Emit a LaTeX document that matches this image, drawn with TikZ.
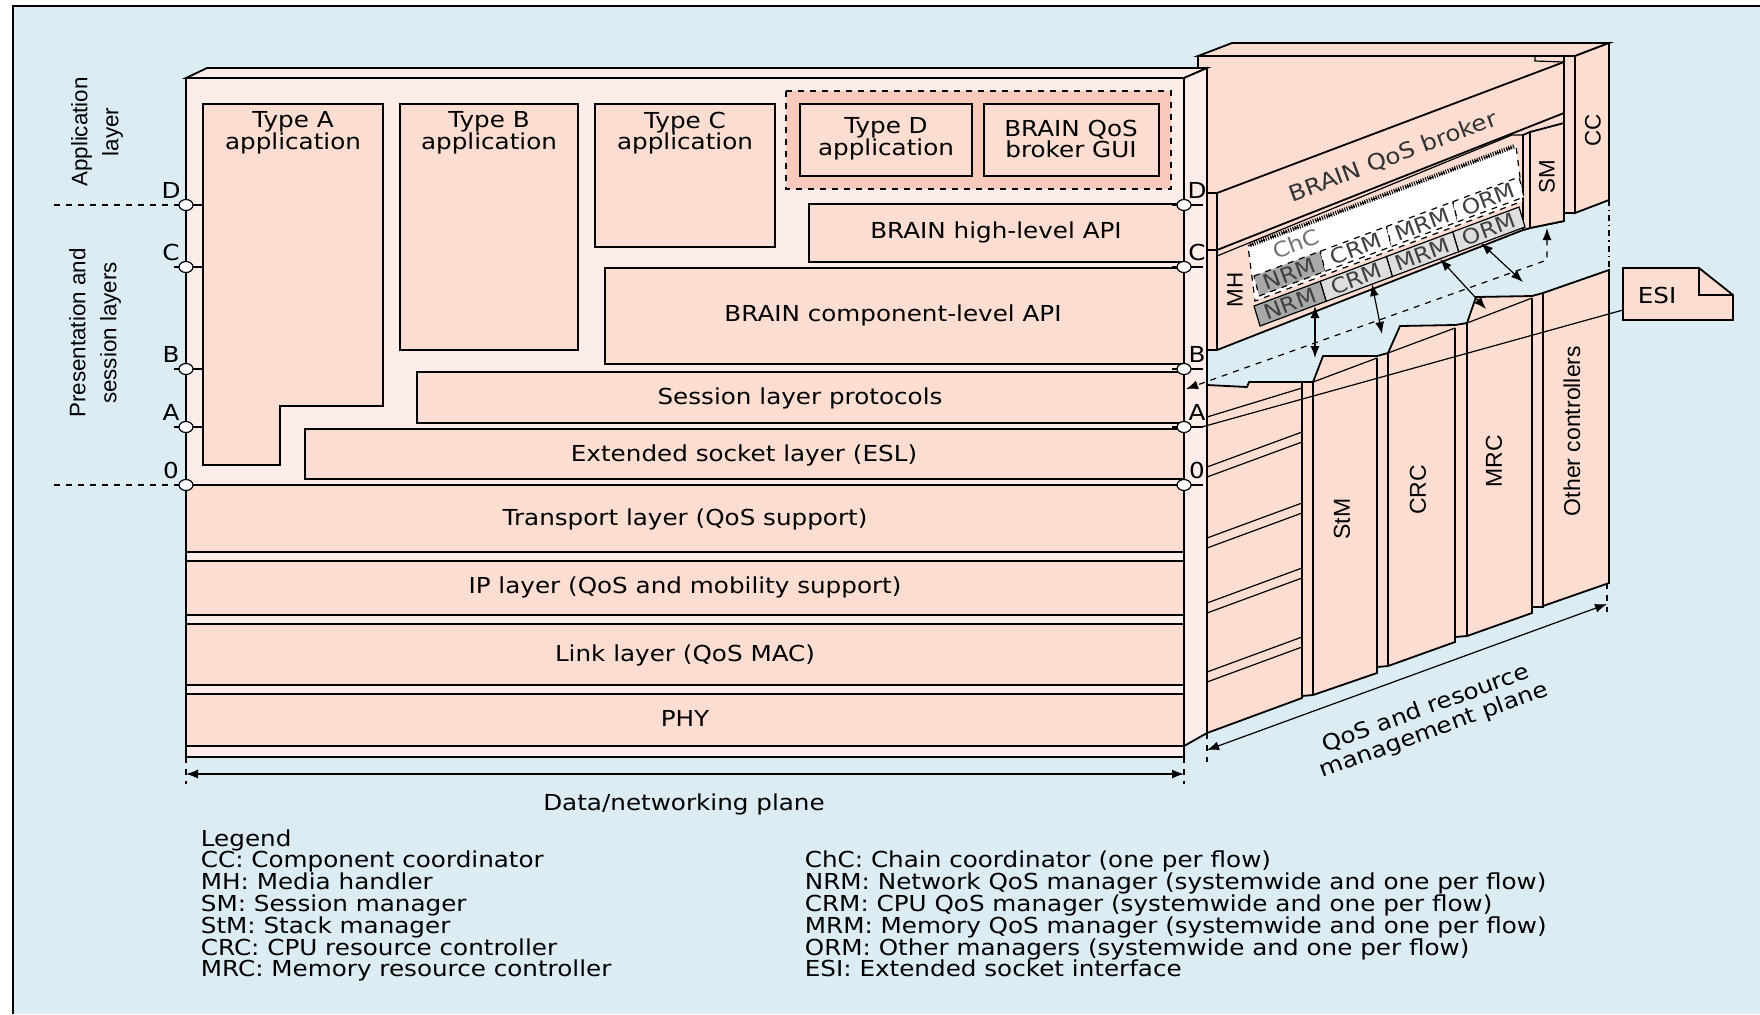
\documentclass[tikz,border=0pt]{standalone}
\usepackage{fontspec}
\setmainfont{DejaVu Sans}[FakeStretch=1.12]
\newfontfamily\narrowfont{Liberation Sans}
\usetikzlibrary{arrows.meta, positioning, shapes.geometric}
\definecolor{paneblue}{RGB}{219,236,243}
\definecolor{boxsalmon}{RGB}{252,221,210}
\definecolor{panelpink}{RGB}{253,237,234}
\definecolor{grouppink}{RGB}{249,201,188}
\definecolor{cellgrey}{RGB}{168,168,168}
\definecolor{celllight}{RGB}{222,222,222}

\tikzset{
  layerbox/.style={draw, fill=boxsalmon, line width=0.9pt},
  lbl/.style={font=\fontsize{11}{10.8}\selectfont, align=center, inner sep=0pt},
  sidelbl/.style={font=\narrowfont\fontsize{11.2}{15.5}\selectfont, align=center, rotate=90, inner sep=0pt},
  lvl/.style={ellipse, draw, fill=white, line width=0.6pt, minimum width=7pt, minimum height=5.5pt, inner sep=0pt},
  thin/.style={line width=0.6pt},
  twoway/.style={{Latex[length=6pt,width=4.5pt]}-{Latex[length=6pt,width=4.5pt]}, line width=0.6pt},
  cellbox/.style={draw, line width=0.6pt},
  cellfont/.style={font=\fontsize{10.5}{11}\selectfont, text=black!75, inner sep=0pt, rotate=20.5},
  legendline/.style={font=\fontsize{11}{11}\selectfont, anchor=base west, inner sep=0pt},
}

\begin{document}
\begin{tikzpicture}[x=0.5pt, y=-0.5pt, line width=0.9pt]
\useasboundingbox (0,0) rectangle (1760,1014);
% frame
\fill[paneblue] (12.6,6) rectangle (1760,1014);
\draw (12.6,1014) -- (12.6,6) -- (1760,6);

% ---- QoS and resource management plane, upper part
\draw[fill=boxsalmon] (1198,56) -- (1232,43) -- (1609,43) -- (1575,56) -- cycle;
\draw[fill=boxsalmon] (1198,56) -- (1564,56) -- (1564,221) -- (1530,228) -- (1523,230)
   -- (1217,350) -- (1207,350) -- (1207,70) -- (1198,70) -- cycle;
\draw[thin] (1535,56) -- (1535,61) -- (1564,62);
% broker
\draw[fill=boxsalmon] (1217,193) -- (1564,62) -- (1564,113) -- (1217,250) -- cycle;
\draw (1207,193) -- (1217,193);
\draw (1207,250) -- (1217,250);
\draw[thin] (1217,256) -- (1512,135) -- (1523,135);
\node[lbl, rotate=20.5, text=black!80] (broker) at (1393,157) {BRAIN QoS broker};
% session manager
\draw[fill=boxsalmon] (1523,135) -- (1530,132) -- (1530,228) -- (1523,230) -- cycle;
\draw[fill=boxsalmon] (1530,132) -- (1564,123) -- (1564,221) -- (1530,228) -- cycle;
\node[sidelbl] (sm) at (1547,177) {SM};
% component coordinator
\draw[fill=boxsalmon] (1564,56) -- (1575,56) -- (1575,213) -- (1564,213) -- cycle;
\draw[fill=boxsalmon] (1575,56) -- (1609,43) -- (1609,200) -- (1575,213) -- cycle;
\node[sidelbl] (cc) at (1593,130) {CC};
\draw[thin, dash dot] (1609,200) -- (1609,270);
% media handler
\draw (1217,250) -- (1217,350);
\node[sidelbl] (mh) at (1235,290) {MH};

% chain coordinator with per-flow managers
\draw[thin, dashed, fill=white] (1248,246) -- ++(268,-100) -- ++(7,55) -- ++(-268,100) -- cycle;
\draw[line width=2.2pt, dash pattern=on 0.5pt off 0.7pt] (1250,245) -- ++(265,-99);
\node[cellfont, text=black!55] (chc) at (1296,244) {ChC};
\foreach \nm/\k/\clr in {NRM/0/cellgrey, CRM/1/white, MRM/2/white, ORM/3/white} {
  \draw[cellbox, dashed, fill=\clr] ({1254+66.25*\k},{276-24.75*\k}) -- ++(66.25,-24.75) -- ++(5,20) -- ++(-66.25,24.75) -- cycle;
  \node[cellfont] (flow\nm) at ({1256.5+66.25*\k+33.1},{286-24.75*\k-12.4}) {\nm};
}
% systemwide managers
\foreach \nm/\k/\clr in {NRM/0/cellgrey, CRM/1/celllight, MRM/2/celllight, ORM/3/celllight} {
  \draw[cellbox, fill=\clr] ({1254+66.25*\k},{306-24.75*\k}) -- ++(66.25,-24.75) -- ++(6,20) -- ++(-66.25,24.75) -- cycle;
  \node[cellfont] (sys\nm) at ({1257+66.25*\k+33.1},{316-24.75*\k-12.4}) {\nm};
}

% ---- QoS plane, lower part (stack and controllers)
\draw[fill=boxsalmon] (1207,385) -- (1247,387) -- (1249,382) -- (1313,382) -- (1323,356)
   -- (1377,356) -- (1388,353) -- (1400,326) -- (1455,325) -- (1467,323) -- (1476,297)
   -- (1532,296) -- (1543,293) -- (1609,270) -- (1609,583) -- (1543,606) -- (1543,607)
   -- (1532,607) -- (1532,613) -- (1467,636) -- (1455,637) -- (1455,642) -- (1388,666)
   -- (1377,667) -- (1377,673) -- (1313,695) -- (1302,696) -- (1302,698) -- (1207,733) -- cycle;
\draw[thin] (1207,417) -- (1302,388);
\draw[thin] (1313,382) -- (1377,358);
\draw[thin] (1388,353) -- (1455,328);
\draw[thin] (1467,323) -- (1532,298);
\foreach \xa/\ya/\yb in {1302/382/698, 1313/382/695, 1377/358/673, 1388/353/666,
                          1455/328/642, 1467/323/636, 1532/298/613, 1543/293/606}
  \draw (\xa,\ya) -- (\xa,\yb);
\foreach \yy in {467, 477, 538, 548, 603, 613, 672, 682}
  \draw[thin] (1207,\yy) -- ++(95,-35);
\node[sidelbl, font=\narrowfont\fontsize{11.5}{12}\selectfont] (stm) at (1342,519) {StM};
\node[sidelbl, font=\narrowfont\fontsize{11.5}{12}\selectfont] (crc) at (1418,490) {CRC};
\node[sidelbl, font=\narrowfont\fontsize{11.5}{12}\selectfont] (mrc) at (1494,461) {MRC};
\node[sidelbl, font=\narrowfont\fontsize{11.5}{12}\selectfont] (other) at (1572,431) {Other controllers};

% ESI
\draw[fill=boxsalmon] (1623,268) -- (1699,268) -- (1733,295) -- (1733,320) -- (1623,320) -- cycle;
\draw (1699,268) -- (1699,295) -- (1733,295);
\node[lbl] (esi) at (1657,295) {ESI};

% ---- data/networking plane
\draw[fill=panelpink] (186,78) -- (207,68) -- (1207,68) -- (1184,78) -- cycle;
\draw[fill=panelpink] (186,78) rectangle (1184,757);
\draw[fill=panelpink] (1184,78) -- (1207,68) -- (1207,733) -- (1184,746) -- cycle;

\draw[layerbox] (186,485) rectangle (1184,552);
\node[lbl] (transport) at (685,519) {Transport layer (QoS support)};
\draw[layerbox] (186,561) rectangle (1184,615);
\node[lbl] (ip) at (685,587) {IP layer (QoS and mobility support)};
\draw[layerbox] (186,624) rectangle (1184,685);
\node[lbl] (link) at (685,655) {Link layer (QoS MAC)};
\draw[layerbox] (186,694) rectangle (1184,746);
\node[lbl] (phy) at (685,718) {PHY};

\draw[layerbox] (203,104) -- (383,104) -- (383,406) -- (280,406) -- (280,465) -- (203,465) -- cycle;
\node[lbl] (typea) at (293,133) {Type A\\application};
\draw[layerbox] (400,104) rectangle (578,350);
\node[lbl] (typeb) at (489,133) {Type B\\application};
\draw[layerbox] (595,104) rectangle (775,247);
\node[lbl] (typec) at (685,133) {Type C\\application};
\draw[dashed, fill=grouppink] (786,91) rectangle (1171,189);
\draw[layerbox] (800,104) rectangle (972,176);
\node[lbl] (typed) at (886,139) {Type D\\application};
\draw[layerbox] (984,104) rectangle (1159,176);
\node[lbl] (gui) at (1071,139) {BRAIN QoS\\broker GUI};
\draw[layerbox] (809,204) rectangle (1184,262);
\node[lbl] (highapi) at (996,232) {BRAIN high-level API};
\draw[layerbox] (605,268) rectangle (1184,364);
\node[lbl] (compapi) at (893,315) {BRAIN component-level API};
\draw[layerbox] (417,372) rectangle (1184,423);
\node[lbl] (session) at (800,398) {Session layer protocols};
\draw[layerbox] (305,429) rectangle (1184,479);
\node[lbl] (esl) at (744,455) {Extended socket layer (ESL)};

% interface levels
\draw[dashed, thin] (54,205) -- (174,205);
\draw[dashed, thin] (54,485) -- (174,485);
\foreach \lv/\yy in {D/205, C/267, B/369, A/427, 0/485} {
  \draw[thin] (174,\yy) -- (203,\yy);
  \draw[thin] (1172,\yy) -- (1203,\yy);
  \node[lvl] (lft\lv) at (186,\yy) {};
  \node[lvl] (rgt\lv) at (1184,\yy) {};
  \node[lbl] (lftlbl\lv) at (171,{\yy-15}) {\lv};
  \node[lbl] (rgtlbl\lv) at (1197,{\yy-15}) {\lv};
}
\node[sidelbl] (applayer) at (97,132) {Application\\layer};
\node[sidelbl] (preslayer) at (95,333) {Presentation and\\session layers};

% ---- connectors
\coordinate (esiport) at (1623,310);
\draw[thin] (rgtA.east) ++(10,0) coordinate (aport) -- (esiport);
\coordinate (smport) at (1547,228);
\coordinate (smbend) at (1547,260);
\coordinate (panelport) at (1186,389);
\draw[twoway, dashed] (smport) -- (smbend) -- (panelport);
\coordinate (nrmS) at (1315,306); \coordinate (stmT) at (1315,358);
\coordinate (crmS) at (1372,284); \coordinate (crcT) at (1382,334);
\coordinate (mrmS) at (1440,259); \coordinate (mrcT) at (1486,309);
\coordinate (ormS) at (1481,243); \coordinate (othT) at (1523,282);
\draw[twoway] (nrmS) -- (stmT);
\draw[twoway] (crmS) -- (crcT);
\draw[twoway] (mrmS) -- (mrcT);
\draw[twoway] (ormS) -- (othT);

% ---- plane dimensions
\coordinate (dpL) at (186,774); \coordinate (dpR) at (1184,774);
\draw[thin, dashed] (186,757) -- (186,784);
\draw[thin, dashed] (1184,757) -- (1184,784);
\draw[twoway] (dpL) -- (dpR);
\node[lbl] (dplbl) at (684,804) {Data/networking plane};
\coordinate (qpL) at (1207,750); \coordinate (qpR) at (1607,604);
\draw[thin, dashed] (1207,733) -- (1207,762);
\draw[thin, dashed] (1607,583) -- (1607,612);
\draw[twoway] (qpL) -- (qpR);
\node[lbl, rotate=20, font=\fontsize{11}{11.5}\selectfont] (qplbl) at (1430,720) {QoS and resource\\management plane};

% ---- legend
\foreach \txt [count=\i from 0] in {Legend, CC: Component coordinator, MH: Media handler,
    SM: Session manager, StM: Stack manager, CRC: CPU resource controller,
    MRC: Memory resource controller}
  \node[legendline] (legl\i) at (200,{846+21.8*\i}) {\txt};
\foreach \txt [count=\i from 1] in {ChC: Chain coordinator (one per flow),
    NRM: Network QoS manager (systemwide and one per flow),
    CRM: CPU QoS manager (systemwide and one per flow),
    MRM: Memory QoS manager (systemwide and one per flow),
    ORM: Other managers (systemwide and one per flow),
    ESI: Extended socket interface}
  \node[legendline] (legr\i) at (804,{846+21.8*\i}) {\txt};
\end{tikzpicture}
\end{document}
